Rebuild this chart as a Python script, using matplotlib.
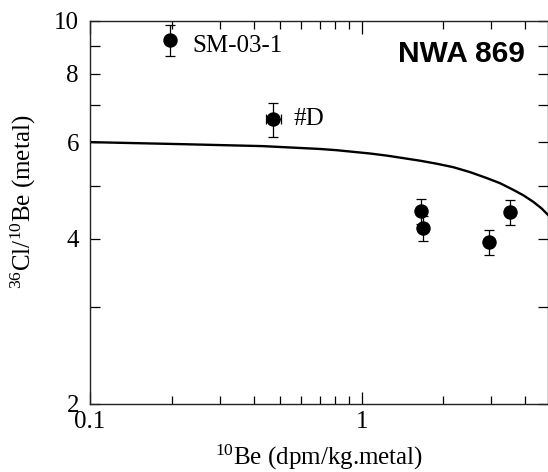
import matplotlib
matplotlib.use("Agg")
import matplotlib.pyplot as plt
from matplotlib.ticker import FixedLocator, NullFormatter, FixedFormatter

plt.rcParams['font.family'] = ['Liberation Serif', 'DejaVu Serif']
plt.rcParams['mathtext.fontset'] = 'custom'
plt.rcParams['mathtext.rm'] = 'Liberation Serif'
plt.rcParams['mathtext.it'] = 'Liberation Serif:italic'

# data points
be10 = [0.197, 0.473, 1.648, 1.686, 2.94, 3.51]
ratio = [9.20, 6.61, 4.49, 4.18, 3.94, 4.47]
ratio_err = [0.60, 0.47, 0.24, 0.22, 0.20, 0.23]
be10_err = [0.0, 0.03, 0.0, 0.0, 0.0, 0.0]

# model curve samples
curve_x = [0.1, 0.2145, 0.433, 0.702, 0.809, 0.931, 1.073, 1.236, 1.423, 1.639,
           1.888, 2.175, 2.504, 2.884, 3.228, 3.614, 3.934, 4.28, 4.598, 4.85]
curve_y = [6.00, 5.95, 5.90, 5.83, 5.80, 5.76, 5.72, 5.67, 5.61, 5.55,
           5.48, 5.40, 5.29, 5.16, 5.05, 4.91, 4.80, 4.67, 4.54, 4.42]

labels = ["SM-03-1", "#D"]
label_pos = [(0.239, 9.0), (0.56, 6.60)]
title_text = "NWA 869"

x_major = [0.1, 1]
x_major_labels = ["0.1", "1"]
x_minor = [0.2, 0.3, 0.4, 0.5, 0.6, 0.7, 0.8, 0.9, 2, 3, 4]
y_major = [2, 4, 6, 8, 10]
y_minor = [3, 5, 7, 9]

fig = plt.figure(figsize=(5.48, 4.72), dpi=100)
ax = fig.add_axes([90/548, (472-403.7)/472, 458/548, (403.7-20.5)/472])

ax.plot(curve_x, curve_y, color='black', lw=1.7, solid_joinstyle='round')
ax.errorbar(be10, ratio, yerr=ratio_err, xerr=be10_err, fmt='o', color='black',
            ms=9.4, ecolor='black', elinewidth=0.9, capsize=3.5, capthick=0.9)

for t, (tx, ty) in zip(labels, label_pos):
    ax.text(tx, ty, t, fontsize=18, ha='left', va='center')
ax.text(1.36, 8.69, title_text, fontsize=21.5, fontweight='bold',
        family=['Liberation Sans', 'DejaVu Sans'], ha='left', va='center')

ax.set_xscale('log')
ax.set_yscale('log')
ax.set_xlim(0.1, 4.85)
ax.set_ylim(2, 10)

ax.xaxis.set_major_locator(FixedLocator(x_major))
ax.xaxis.set_major_formatter(FixedFormatter(x_major_labels))
ax.xaxis.set_minor_locator(FixedLocator(x_minor))
ax.xaxis.set_minor_formatter(NullFormatter())
ax.yaxis.set_major_locator(FixedLocator(y_major))
ax.yaxis.set_major_formatter(FixedFormatter([str(v) for v in y_major]))
ax.yaxis.set_minor_locator(FixedLocator(y_minor))
ax.yaxis.set_minor_formatter(NullFormatter())

ax.tick_params(axis='both', which='both', direction='in', top=True, right=True,
               labelsize=18, width=0.9, colors='black')
ax.tick_params(axis='x', which='major', length=9, pad=5)
ax.tick_params(axis='x', which='minor', length=6)
ax.tick_params(axis='y', which='both', length=7, pad=8)

for s in ax.spines.values():
    s.set_linewidth(1.0)
    s.set_color('#222222')

ax.set_xlabel(r"$^{10}$Be (dpm/kg.metal)", fontsize=18)
ax.set_ylabel(r"$^{36}$Cl/$^{10}$Be (metal)", fontsize=18)
ax.xaxis.set_label_coords(0.5, -0.103)
ax.yaxis.set_label_coords(-0.113, 0.526)

fig.savefig("out.png", dpi=100)
